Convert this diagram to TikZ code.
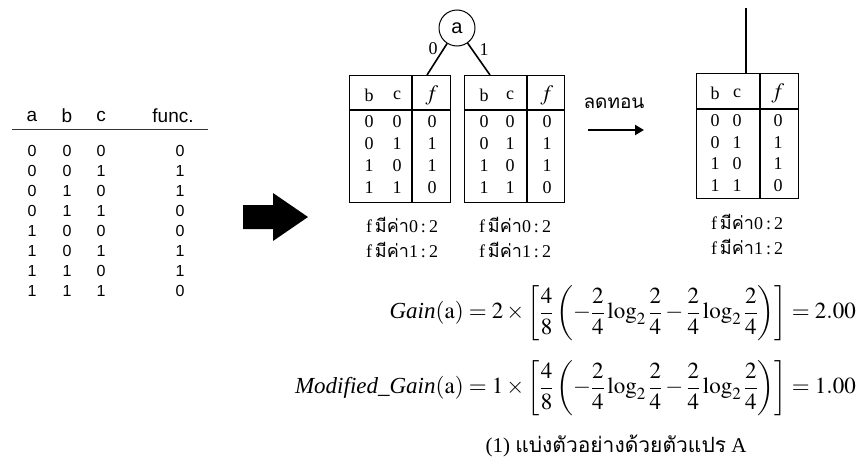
\documentclass[tikz,border=0pt]{standalone}
\usepackage{mathptmx}
\usepackage[no-math]{fontspec}
\setmainfont{Liberation Serif}
\setsansfont{Liberation Sans}
\newfontfamily\thaifont[Script=Thai]{Loma}
\usetikzlibrary{arrows.meta}
\newcommand\fcount[1]{f\,{\thaifont มีค่า}#1\,:\,2}
\tikzset{
  lhead/.style={inner sep=0, font=\sffamily\fontsize{19}{19}\selectfont},
  lcell/.style={inner sep=0, font=\sffamily\fontsize{16}{16}\selectfont},
  cell/.style={inner sep=0, font=\fontsize{18}{18}\selectfont},
  fhead/.style={inner sep=0, font=\fontsize{22}{22}\selectfont},
  frame/.style={draw, line width=0.8pt, inner sep=0},
  thickrule/.style={line width=1.8pt},
  edge/.style={line width=1.6pt},
  note/.style={inner sep=0, font=\fontsize{18}{20}\selectfont},
  formula/.style={inner sep=0, anchor=east, font=\fontsize{23}{27}\selectfont},
}
\begin{document}
\begin{tikzpicture}[x=1pt,y=-1pt]
\useasboundingbox (0,0) rectangle (859,466);

% ---------- left truth table ----------
\node[lhead] (ha) at (32,116) {a};
\node[lhead] (hb) at (67,116) {b};
\node[lhead] (hc) at (101,116) {c};
\node[lhead] (hf) at (173,116) {func.};
\draw[line width=0.8pt, black!80] (12,129) -- (208,129);
\foreach \va/\vb/\vc/\vf [count=\i from 0] in
  {0/0/0/0,0/0/1/1,0/1/0/1,0/1/1/0,1/0/0/0,1/0/1/1,1/1/0/1,1/1/1/0}{
  \node[lcell] (ra\i) at (32,{151+20*\i}) {\va};
  \node[lcell] (rb\i) at (67,{151+20*\i}) {\vb};
  \node[lcell] (rc\i) at (101,{151+20*\i}) {\vc};
  \node[lcell] (rf\i) at (180,{151+20*\i}) {\vf};
}

% ---------- big block arrow ----------
\fill[black] (243,205) -- (273,205) -- (273,193) -- (308,217) -- (273,241)
  -- (273,229) -- (243,229) -- cycle;

% ---------- split on a ----------
\node[circle, draw, line width=1pt, minimum size=36pt, inner sep=0,
  font=\sffamily\fontsize{20}{20}\selectfont] (a) at (457,28) {a};

\node[frame, minimum width=101pt, minimum height=127pt] (tL) at (399.5,138.5) {};
\node[frame, minimum width=100pt, minimum height=127pt] (tR) at (514,138.5) {};

\coordinate (l0) at (427,75);
\coordinate (l1) at (490,75);
\draw[edge] (a) -- (l0);
\draw[edge] (a) -- (l1);
\node[cell] (lab0) at (433,49) {0};
\node[cell] (lab1) at (484,50) {1};

% internal rules
\draw[thickrule] (349,110) -- (450,110);
\draw[thickrule] (412,75) -- (412,202);
\draw[thickrule] (464,110) -- (564,110);
\draw[thickrule] (527,75) -- (527,202);

% headers
\node[cell] (tLhb) at (369,95) {b};
\node[cell] (tLhc) at (397,95) {c};
\node[fhead] (tLhf) at (432,95) {$f$};
\node[cell] (tRhb) at (484,95) {b};
\node[cell] (tRhc) at (510,95) {c};
\node[fhead] (tRhf) at (547,95) {$f$};

\foreach \vb/\vc/\vf [count=\i from 0] in {0/0/0,0/1/1,1/0/1,1/1/0}{
  \node[cell] (tLb\i) at (369,{122+22*\i}) {\vb};
  \node[cell] (tLc\i) at (397,{122+22*\i}) {\vc};
  \node[cell] (tLf\i) at (432,{122+22*\i}) {\vf};
  \node[cell] (tRb\i) at (484,{122+22*\i}) {\vb};
  \node[cell] (tRc\i) at (510,{122+22*\i}) {\vc};
  \node[cell] (tRf\i) at (547,{122+22*\i}) {\vf};
  \node[cell] (tFb\i) at (715,{121+21.5*\i}) {\vb};
  \node[cell] (tFc\i) at (737,{121+21.5*\i}) {\vc};
  \node[cell] (tFf\i) at (778,{121+21.5*\i}) {\vf};
}

\node[note] (nL0) at (402,225) {\fcount{0}};
\node[note] (nL1) at (402,250) {\fcount{1}};
\node[note] (nR0) at (515,225) {\fcount{0}};
\node[note] (nR1) at (515,250) {\fcount{1}};

% ---------- reduction arrow ----------
\node[inner sep=0, font=\thaifont\fontsize{19}{19}\selectfont] (red) at (614,103) {ลดทอน};
\coordinate (rs) at (588,130);
\coordinate (re) at (644,130);
\draw[line width=2.2pt, -{Triangle[length=9pt,width=10pt]}] (rs) -- (re);

% ---------- reduced table ----------
\node[frame, minimum width=102pt, minimum height=125pt] (tF) at (747,135.5) {};
\coordinate (topF) at (746,8);
\coordinate (tFtop) at (746,73);
\draw[line width=1.2pt] (topF) -- (tFtop);
\draw[thickrule] (696,109) -- (798,109);
\draw[thickrule] (760,73) -- (760,198);
\node[cell] (tFhb) at (715,93) {b};
\node[cell] (tFhc) at (737,93) {c};
\node[fhead] (tFhf) at (778,93) {$f$};
\node[note] (nF0) at (747,222) {\fcount{0}};
\node[note] (nF1) at (747,247) {\fcount{1}};

% ---------- formulas ----------
\node[formula] (g1) at (856,313) {$\displaystyle \textit{Gain}(\mathrm{a}) = 2\times\left[\frac{4}{8}\left(-\frac{2}{4}\log_2\frac{2}{4}-\frac{2}{4}\log_2\frac{2}{4}\right)\right] = 2.00$};
\node[formula] (g2) at (856,388) {$\displaystyle \textit{Modified\_Gain}(\mathrm{a}) = 1\times\left[\frac{4}{8}\left(-\frac{2}{4}\log_2\frac{2}{4}-\frac{2}{4}\log_2\frac{2}{4}\right)\right] = 1.00$};

\node[inner sep=0, font=\fontsize{21}{23}\selectfont] (cap) at (616,446) {(1) {\thaifont แบ่งตัวอย่างด้วยตัวแปร} A};
\end{tikzpicture}
\end{document}
